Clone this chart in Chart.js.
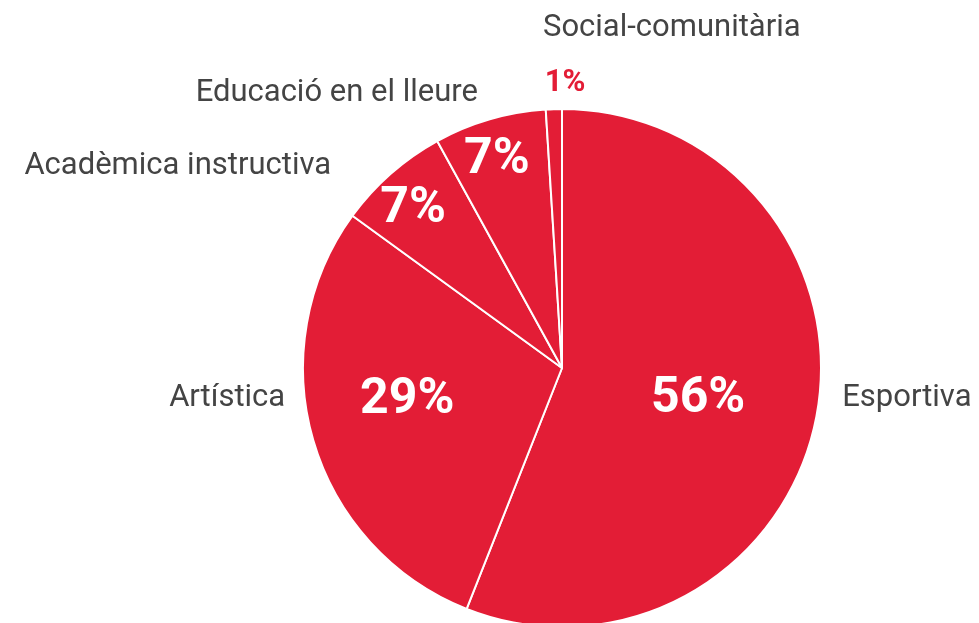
<!DOCTYPE html>
<html>
<head>
<meta charset="utf-8">
<script src="https://cdn.jsdelivr.net/npm/chart.js@4.4.1/dist/chart.umd.min.js"></script>
<style>
  html, body { margin: 0; padding: 0; background: #fff; }
  #wrap { width: 979px; height: 623px; overflow: hidden; }
</style>
</head>
<body>
<div id="wrap"><canvas id="pieChart" width="979" height="700"></canvas></div>
<script>
// Data
const categories = ['Esportiva', 'Artística', 'Acadèmica instructiva', 'Educació en el lleure', 'Social-comunitària'];
const percentages = [56, 29, 7, 7, 1];

const RED = '#e31d36';
const GRAY = '#444444';

// label placement per slice (radius factor + angle shift in degrees from slice middle)
const pctPlace = [
    { r: 0.54, a: 2.4 },
    { r: 0.61, a: 4.5 },
    { r: 0.84, a: -1.8 },
    { r: 0.84, a: -1.2 },
    { r: 1.10, a: 2.4, outside: true }
];
const namePlace = [
    { r: 1.088, a: -4.7, align: 'left' },
    { r: 1.075, a: 10, align: 'right' },
    { r: 1.185, a: -7.4, align: 'right' },
    { r: 1.11, a: -0.8, align: 'right' },
    { r: 1.313, a: -1.4, align: 'left' }
];

const labelPlugin = {
    id: 'pieLabels',
    afterDatasetsDraw(chart) {
        const c = chart.ctx;
        const meta = chart.getDatasetMeta(0);
        meta.data.forEach((arc, i) => {
            const p = arc.getProps(['x', 'y', 'startAngle', 'endAngle', 'outerRadius'], true);
            const mid = (p.startAngle + p.endAngle) / 2;
            const at = (place) => {
                const ang = mid + place.a * Math.PI / 180;
                return [p.x + Math.cos(ang) * p.outerRadius * place.r,
                        p.y + Math.sin(ang) * p.outerRadius * place.r];
            };
            c.save();
            c.textBaseline = 'middle';

            // percentage
            const pp = pctPlace[i];
            let [px, py] = at(pp);
            c.textAlign = 'center';
            if (pp.outside) {
                c.fillStyle = RED;
                c.font = 'bold 31px Roboto';
            } else {
                c.fillStyle = '#ffffff';
                c.font = 'bold 50px Roboto';
            }
            c.fillText(percentages[i] + '%', px, py);

            // category name
            const np = namePlace[i];
            let [nx, ny] = at(np);
            c.textAlign = np.align;
            c.fillStyle = GRAY;
            c.font = '31px Roboto';
            c.fillText(categories[i], nx, ny);
            c.restore();
        });
    }
};

const ctx = document.getElementById('pieChart').getContext('2d');
const pieChart = new Chart(ctx, {
    type: 'pie',
    data: {
        labels: categories,
        datasets: [{
            data: percentages,
            backgroundColor: RED,
            borderColor: '#ffffff',
            borderWidth: 2
        }]
    },
    options: {
        responsive: false,
        animation: false,
        layout: {
            padding: { left: 302, right: 157, top: 108, bottom: 72 }
        },
        plugins: {
            legend: { display: false },
            tooltip: { enabled: false }
        }
    },
    plugins: [labelPlugin]
});
</script>
</body>
</html>
